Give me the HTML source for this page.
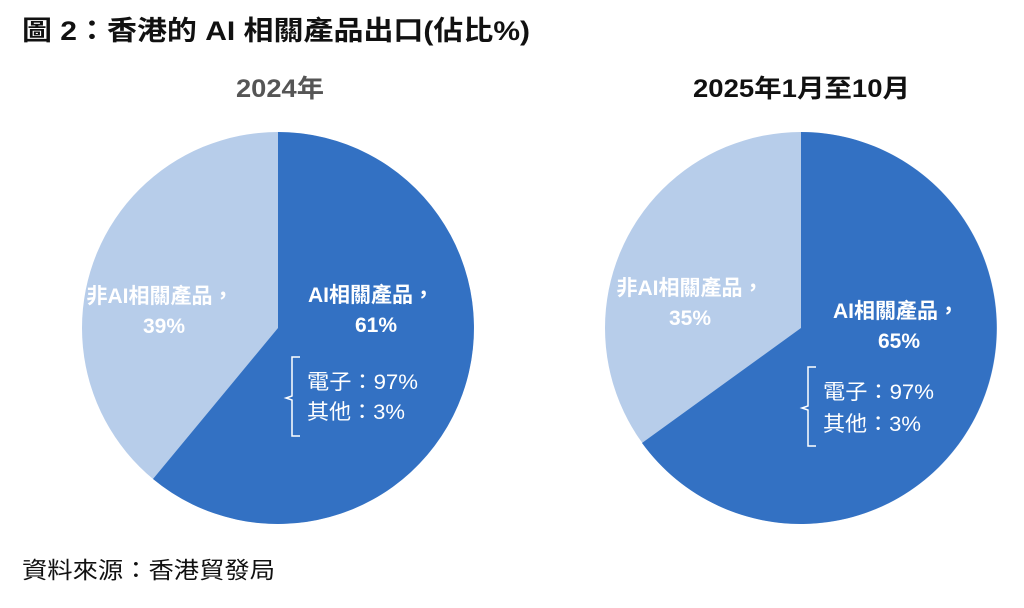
<!DOCTYPE html>
<html><head><meta charset="utf-8"><style>
body{margin:0;background:#fff;width:1024px;height:603px;overflow:hidden}
svg text{font-family:"Liberation Sans","Noto Sans CJK TC",sans-serif}
</style></head><body>
<svg width="1024" height="603" viewBox="0 0 1024 603">
<text x="22" y="40" font-size="27" font-weight="bold" fill="#111" textLength="508" lengthAdjust="spacingAndGlyphs">圖 2：香港的 AI 相關產品出口(佔比%)</text>
<text x="236" y="97" font-size="25" font-weight="bold" fill="#555" textLength="88" lengthAdjust="spacingAndGlyphs">2024年</text>
<text x="693" y="97" font-size="25" font-weight="bold" fill="#111" textLength="217" lengthAdjust="spacingAndGlyphs">2025年1月至10月</text>
<circle cx="278" cy="328" r="196" fill="#B7CDEA"/>
<path d="M278 328 L278 132 A196 196 0 1 1 153 479 Z" fill="#3371C3"/>
<circle cx="801" cy="328" r="196" fill="#B7CDEA"/>
<path d="M801 328 L801 132 A196 196 0 1 1 642 443 Z" fill="#3371C3"/>
<g fill="#fff" font-weight="bold" font-size="21" text-anchor="middle">
<text x="160" y="303">非AI相關產品，</text><text x="164" y="333">39%</text>
<text x="371" y="302">AI相關產品，</text><text x="376" y="332">61%</text>
<text x="690" y="295">非AI相關產品，</text><text x="690" y="325">35%</text>
<text x="896" y="318">AI相關產品，</text><text x="899" y="348">65%</text>
</g>
<g fill="#fff" font-size="21" lengthAdjust="spacingAndGlyphs">
<text x="307" y="389" textLength="111" lengthAdjust="spacingAndGlyphs">電子：97%</text><text x="307" y="419" textLength="98" lengthAdjust="spacingAndGlyphs">其他：3%</text>
<text x="823" y="399" textLength="111" lengthAdjust="spacingAndGlyphs">電子：97%</text><text x="823" y="431" textLength="98" lengthAdjust="spacingAndGlyphs">其他：3%</text>
</g>
<g fill="none" stroke="#fff" stroke-width="1.5">
<path d="M300 357 H292 V396 L286 398 L292 400 V436 H300"/>
<path d="M816 367 H808 V406 L802 408 L808 410 V446 H816"/>
</g>
<text x="22" y="578" font-size="23" fill="#111" textLength="253" lengthAdjust="spacingAndGlyphs">資料來源：香港貿發局</text>
</svg>
</body></html>
